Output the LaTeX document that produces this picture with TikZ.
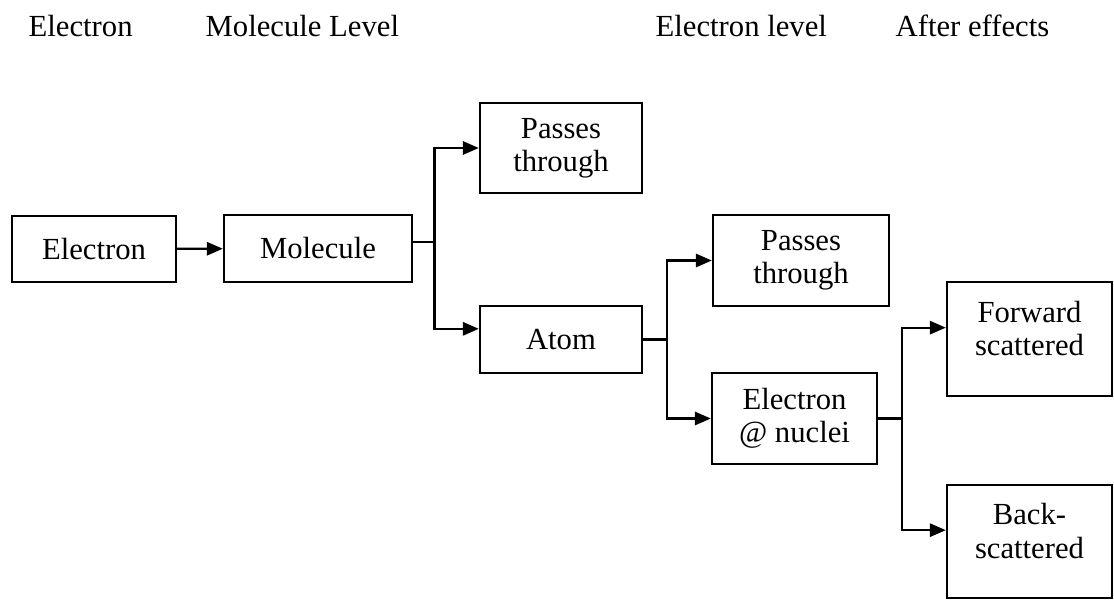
\documentclass[tikz,border=0pt]{standalone}
\usepackage{fontspec}
\setmainfont{Liberation Serif}
\usetikzlibrary{arrows.meta}

\begin{document}
\begin{tikzpicture}[x=0.75pt, y=-0.75pt,
		caja/.style={draw, line width=1.8pt, align=center, inner sep=0pt, font=\fontsize{23}{25}\selectfont},
		flecha/.style={line width=1.6pt, -{Triangle[length=12pt,width=10pt]}},
		titulo/.style={anchor=base west, font=\fontsize{23}{25}\selectfont}]
		\useasboundingbox (0,0) rectangle (1114,606);
		
		% Encabezados de los niveles
		\node[titulo] (tElec) at (24,37) {Electron};
		\node[titulo] (tMol) at (201,37) {Molecule Level};
		\node[titulo] (tNivel) at (651,37) {Electron level};
		\node[titulo] (tEfectos) at (891,37) {After effects};
		
		% Cajas
		\node[caja, minimum width=123pt, minimum height=49.5pt] (elec) at (94,249) {Electron};
		\node[caja, minimum width=141pt, minimum height=50.25pt] (mol) at (318,248.5) {Molecule};
		\node[caja, minimum width=121.5pt, minimum height=67.5pt] (pasa1) at (561,148) {Passes\\through};
		\node[caja, minimum width=121.5pt, minimum height=50.25pt] (atomo) at (561,339.5) {Atom};
		\node[caja, minimum width=132pt, minimum height=68.25pt] (pasa2) at (801,260.5) {Passes\\through};
		\node[caja, minimum width=123.75pt, minimum height=68.25pt] (nucleo) at (794.5,418.5) {Electron\\@ nuclei};
		\node[caja, minimum width=123.75pt, minimum height=85.5pt, text depth=16pt] (adelante) at (1029.5,339) {Forward\\scattered};
		\node[caja, minimum width=123.75pt, minimum height=84.75pt, text depth=16pt] (atras) at (1029.5,541.5) {Back-\\scattered};
		
		% Conexiones
		\draw[flecha] (elec) -- (mol);
		\draw[flecha] ([yshift=5pt]mol.east) -- ++(16pt,0) |- (pasa1.west);
		\draw[flecha] ([yshift=5pt]mol.east) -- ++(16pt,0) |- ([yshift=8pt]atomo.west);
		\draw[flecha] (atomo.east) -- ++(18pt,0) |- (pasa2.west);
		\draw[flecha] (atomo.east) -- ++(18pt,0) |- (nucleo.west);
		\draw[flecha] (nucleo.east) -- ++(18pt,0) |- ([yshift=8.5pt]adelante.west);
		\draw[flecha] (nucleo.east) -- ++(18pt,0) |- ([yshift=8.5pt]atras.west);
	\end{tikzpicture}
\end{document}
